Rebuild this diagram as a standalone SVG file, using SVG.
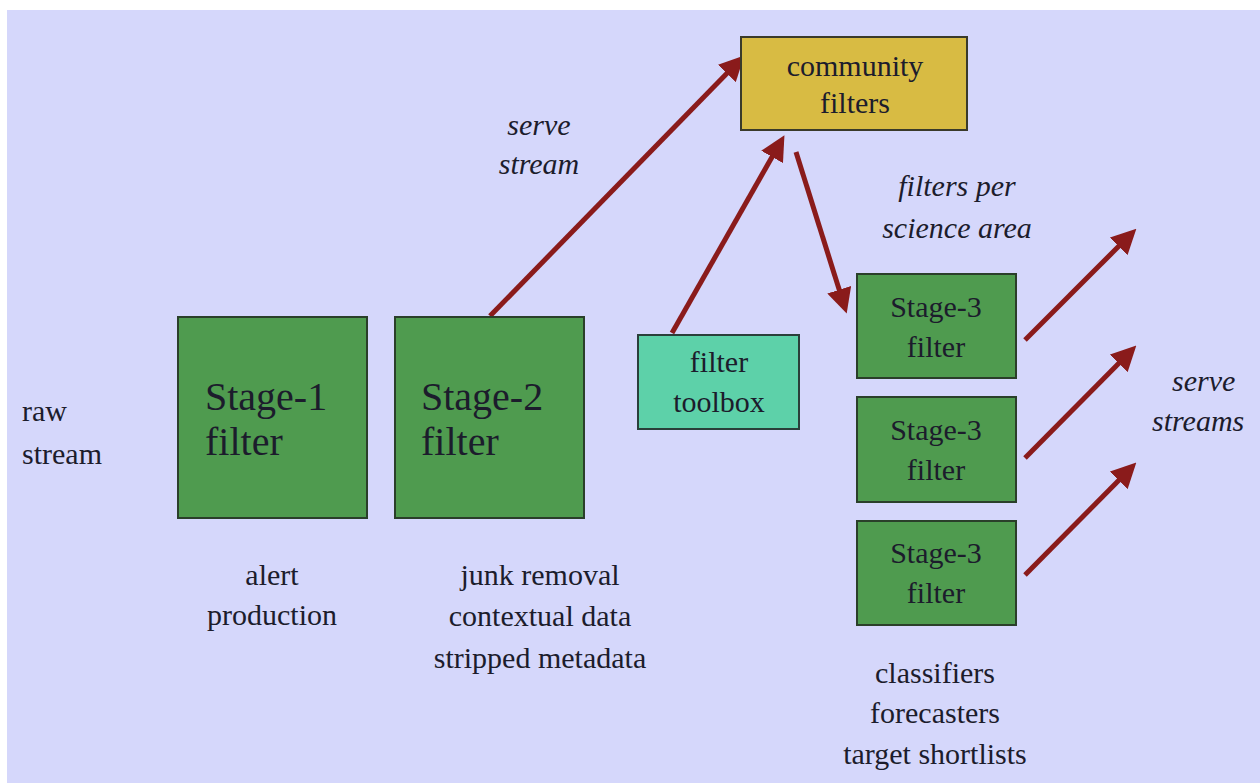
<svg xmlns="http://www.w3.org/2000/svg" width="1260" height="783" viewBox="0 0 1260 783" font-family="Liberation Serif, Times New Roman, serif">
<style>
text{fill:#1c1c2c}
.big{font-size:40px}
.mid{font-size:30px}
.it{font-style:italic}
.c{text-anchor:middle}
.green{fill:#4f9b4f;stroke:#2a3f2a;stroke-width:2}
.conn{stroke:#8a1b1b;stroke-width:5;fill:none;marker-end:url(#ah)}
</style>
<defs>
<marker id="ah" markerWidth="5" markerHeight="5" refX="3.2" refY="2.5" orient="auto" markerUnits="strokeWidth">
<path d="M0,0 L5,2.5 L0,5 Z" fill="#8a1b1b"/>
</marker>
</defs>
<rect x="0" y="0" width="1260" height="783" fill="#ffffff"/>
<rect x="7" y="10" width="1253" height="773" fill="#d5d7fb"/>
<g id="connectors">
<line class="conn" x1="490" y1="316" x2="738" y2="62"/>
<line class="conn" x1="672" y1="333" x2="780" y2="143"/>
<line class="conn" x1="796" y1="152" x2="844" y2="305"/>
<line class="conn" x1="1025" y1="340" x2="1130" y2="235"/>
<line class="conn" x1="1025" y1="458" x2="1130" y2="352"/>
<line class="conn" x1="1025" y1="575" x2="1130" y2="469"/>
</g>
<g id="stage1">
<rect class="green" x="178" y="317" width="189" height="201"/>
<text class="big" x="205" y="410">Stage-1</text>
<text class="big" x="205" y="455">filter</text>
</g>
<g id="stage2">
<rect class="green" x="395" y="317" width="189" height="201"/>
<text class="big" x="421" y="410">Stage-2</text>
<text class="big" x="421" y="455">filter</text>
</g>
<g id="community">
<rect x="741" y="37" width="226" height="93" fill="#d8bb43" stroke="#3a3a2a" stroke-width="2"/>
<text class="mid c" x="855" y="76">community</text>
<text class="mid c" x="855" y="113">filters</text>
</g>
<g id="toolbox">
<rect x="638" y="335" width="161" height="94" fill="#5dd1a9" stroke="#2a3f3a" stroke-width="2"/>
<text class="mid c" x="719" y="372">filter</text>
<text class="mid c" x="719" y="412">toolbox</text>
</g>
<g id="stage3a">
<rect class="green" x="857" y="274" width="159" height="104"/>
<text class="mid c" x="936" y="317">Stage-3</text>
<text class="mid c" x="936" y="357">filter</text>
</g>
<g id="stage3b">
<rect class="green" x="857" y="397" width="159" height="105"/>
<text class="mid c" x="936" y="440">Stage-3</text>
<text class="mid c" x="936" y="480">filter</text>
</g>
<g id="stage3c">
<rect class="green" x="857" y="521" width="159" height="104"/>
<text class="mid c" x="936" y="563">Stage-3</text>
<text class="mid c" x="936" y="603">filter</text>
</g>
<g id="labels">
<text class="mid" x="22" y="421">raw</text>
<text class="mid" x="22" y="464">stream</text>
<text class="mid it c" x="539" y="135">serve</text>
<text class="mid it c" x="539" y="174">stream</text>
<text class="mid it c" x="957" y="196">filters per</text>
<text class="mid it c" x="957" y="238">science area</text>
<text class="mid it" x="1172" y="391">serve</text>
<text class="mid it" x="1152" y="431">streams</text>
<text class="mid c" x="272" y="585">alert</text>
<text class="mid c" x="272" y="625">production</text>
<text class="mid c" x="540" y="585">junk removal</text>
<text class="mid c" x="540" y="626">contextual data</text>
<text class="mid c" x="540" y="668">stripped metadata</text>
<text class="mid c" x="935" y="683">classifiers</text>
<text class="mid c" x="935" y="723">forecasters</text>
<text class="mid c" x="935" y="764">target shortlists</text>
</g>
</svg>
